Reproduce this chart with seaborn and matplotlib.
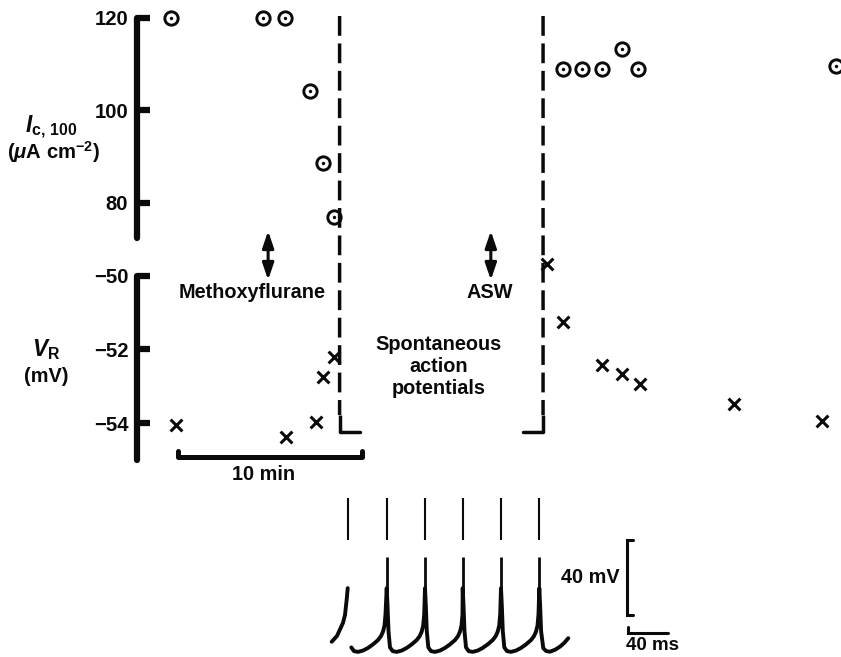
import matplotlib
matplotlib.use("Agg")
import matplotlib.pyplot as plt
import seaborn as sns
import numpy as np
import pandas as pd
from matplotlib.patches import ConnectionPatch

# ---------------- data ----------------
# critical current I_c,100 (uA cm^-2) vs time (min)
ic_time = [-0.4, 4.6, 5.8, 7.2, 7.9, 8.5, 21.0, 22.0, 23.1, 24.2, 25.1, 35.9]
ic_value = [120.0, 120.0, 120.0, 104.2, 88.6, 76.9, 109.0, 109.0, 109.0, 113.1, 109.0, 109.5]
# resting potential V_R (mV) vs time (min)
vr_time = [-0.1, 5.9, 7.5, 7.9, 8.5, 20.1, 21.0, 23.1, 24.2, 25.2, 30.3, 35.1]
vr_value = [-54.05, -54.38, -53.97, -52.75, -52.2, -49.69, -51.25, -52.42, -52.67, -52.94, -53.48, -53.94]

ic_ticks = [80, 100, 120]
ic_ticklabels = ["80", "100", "120"]
vr_ticks = [-54, -52, -50]
vr_ticklabels = ["\u221254", "\u221252", "\u221250"]

ap_period_min = [8.8, 19.9]          # dashed lines: spontaneous AP period
arrow_min = [4.9, 17.05]             # solution changes
arrow_labels = ["Methoxyflurane", "ASW"]
time_bar_min = [0, 10]               # "10 min" bar

# spontaneous action potential trace (ms, mV)
spike_ms = [28.0, 66.7, 105.0, 142.7, 181.0, 219.3]
first_rise_dt = [-16.3, -11.0, -8.0, -5.0, -3.0, -1.3, -0.3]
first_rise_mv = [-55.6, -52.5, -49.0, -45.5, -41.3, -33.0, -27.0]
cycle_dt = [0.0, 0.8, 1.8, 3.3, 6.0, 10.0, 15.0, 20.0, 25.0, 30.0, 33.0, 35.0, 36.5, 37.5]
cycle_mv = [-27.0, -36.0, -50.0, -58.6, -60.6, -61.0, -60.3, -58.9, -57.0, -54.7, -52.6, -50.2, -47.0, -41.0]
tail_dt = [0.0, 0.8, 1.8, 4.0, 7.0, 10.7, 16.0, 20.7, 25.0, 29.0]
tail_mv = [-27.0, -36.0, -50.0, -59.1, -60.6, -60.9, -59.8, -58.2, -56.2, -53.7]
spike_top_mv = 21.0
spike_gap_mv = [-1.3, -10.4]
scale_mv = 40
scale_ms = 40

# ---------------- style ----------------
sns.set_theme(style="white")
plt.rcParams["font.family"] = ["Liberation Sans", "DejaVu Sans"]
plt.rcParams["mathtext.fontset"] = "custom"
plt.rcParams["mathtext.rm"] = "Liberation Sans:bold"
plt.rcParams["mathtext.it"] = "Liberation Sans:italic:bold"
plt.rcParams["mathtext.bf"] = "Liberation Sans:bold"
INK = "#0a0a0a"
FS = 14.3
TFS = 14.6
FW = "bold"

W, H = 841, 657
fig = plt.figure(figsize=(W / 100, H / 100), dpi=100)

def box(x0, y0, x1, y1):
    return [x0 / W, 1 - y1 / H, (x1 - x0) / W, (y1 - y0) / H]

# time calibration: t=0 at x=178.3 px, 18.33 px per minute
X0, PXM = 178.3, 18.33
tl, tr = (136.5 - X0) / PXM, (W - X0) / PXM

ax_ic = fig.add_axes(box(136.5, 10, W, 240))
ax_vr = fig.add_axes(box(136.5, 250, W, 470))
ax_tr = fig.add_axes(box(320, 485, 700, H))

# I_c: 120 at y=17.5 px, 4.6375 px/unit
ax_ic.set_ylim(120 - (240 - 17.5) / 4.6375, 120 + (17.5 - 10) / 4.6375)
# V_R: -50 at y=275.7 px, 36.9 px/mV
ax_vr.set_ylim(-50 - (470 - 275.7) / 36.9, -50 + (275.7 - 250) / 36.9)
for ax in (ax_ic, ax_vr):
    ax.set_xlim(tl, tr)
    ax.set_facecolor("none")
    for s in ("top", "right", "bottom"):
        ax.spines[s].set_visible(False)
    ax.spines["left"].set_linewidth(4.5)
    ax.spines["left"].set_color(INK)
    ax.spines["left"].set_capstyle("round")
    ax.set_xticks([])
    ax.tick_params(axis="y", direction="in", length=9, width=4.5, color=INK,
                   labelsize=TFS, labelcolor=INK, pad=6, left=True)

ax_ic.spines["left"].set_bounds(72.4, 120.0)
ax_ic.set_yticks(ic_ticks)
ax_ic.set_yticklabels(ic_ticklabels, fontweight=FW)
ax_vr.spines["left"].set_bounds(-55.0, -50.0)
ax_vr.set_yticks(vr_ticks)
ax_vr.set_yticklabels(vr_ticklabels, fontweight=FW)

# ---- markers ----
ic_df = pd.DataFrame({"t": ic_time, "v": ic_value})
vr_df = pd.DataFrame({"t": vr_time, "v": vr_value})
sns.scatterplot(data=ic_df, x="t", y="v", ax=ax_ic, marker="o", s=92,
                facecolor="white", edgecolor=INK, linewidth=2.1, clip_on=False, zorder=3)
sns.scatterplot(data=ic_df, x="t", y="v", ax=ax_ic, marker="o", s=6,
                color=INK, linewidth=0, clip_on=False, zorder=4)
sns.scatterplot(data=vr_df, x="t", y="v", ax=ax_vr, marker="x", s=72,
                color=INK, linewidth=2.2, clip_on=False, zorder=3)
ax_ic.set_xlabel(""); ax_ic.set_ylabel("")
ax_vr.set_xlabel(""); ax_vr.set_ylabel("")

# ---- dashed lines spanning both panels ----
ic_top = 120 + (17.5 - 16) / 4.6375
vr_solid_top = -50 - (415 - 275.7) / 36.9
vr_bottom = -50 - (432 - 275.7) / 36.9
for t in ap_period_min:
    cp = ConnectionPatch(xyA=(t, ic_top), coordsA=ax_ic.transData,
                         xyB=(t, vr_solid_top), coordsB=ax_vr.transData,
                         color=INK, lw=2.5, linestyle=(0, (5.7, 2.2)),
                         capstyle="butt")
    fig.add_artist(cp)
    ax_vr.plot([t, t], [vr_solid_top, vr_bottom], color=INK, lw=2.5,
               solid_capstyle="butt", clip_on=False)
hook = 1.1
ax_vr.plot([ap_period_min[0], ap_period_min[0] + hook], [vr_bottom, vr_bottom],
           color=INK, lw=2.5, clip_on=False)
ax_vr.plot([ap_period_min[1] - hook, ap_period_min[1]], [vr_bottom, vr_bottom],
           color=INK, lw=2.5, clip_on=False)

# ---- double arrows + labels ----
arr_top = 120 - (231 - 17.5) / 4.6375
arr_bot = -50 - (280 - 275.7) / 36.9
for t in arrow_min:
    ax_vr.annotate("", xy=(t, arr_bot), xycoords="data",
                   xytext=(t, arr_top), textcoords=ax_ic.transData,
                   arrowprops=dict(arrowstyle="<|-|>,head_length=0.5,head_width=0.17",
                                   color=INK, lw=2.2, mutation_scale=20,
                                   shrinkA=0, shrinkB=0))
lab_x = [(252.5 - X0) / PXM, (489.7 - X0) / PXM]
lab_y = -50 - (292.5 - 275.7) / 36.9
for x, s in zip(lab_x, arrow_labels):
    ax_vr.text(x, lab_y, s, ha="center", va="center", fontsize=FS,
               fontweight=FW, color=INK)
ax_vr.text((438.3 - X0) / PXM, -50 - (366.5 - 275.7) / 36.9,
           "Spontaneous\naction\npotentials", ha="center", va="center",
           fontsize=FS, fontweight=FW, color=INK, linespacing=1.22)

# ---- 10 min bar ----
bar_y = -50 - (457.3 - 275.7) / 36.9
bar_up = -50 - (450.5 - 275.7) / 36.9
ax_vr.plot([time_bar_min[0], time_bar_min[0], time_bar_min[1], time_bar_min[1]],
           [bar_up, bar_y, bar_y, bar_up], color=INK, lw=3.6,
           solid_capstyle="round", solid_joinstyle="round", clip_on=False)
ax_vr.text(np.mean(time_bar_min) - 0.35, -50 - (475 - 275.7) / 36.9, "10 min",
           ha="center", va="center", fontsize=FS, fontweight=FW, color=INK)

# ---- axis labels ----
fig.text(51 / W, 1 - 127 / H, r"$\mathit{I}_{\mathbf{c,\,100}}$", ha="center",
         va="center", fontsize=FS + 2, color=INK)
fig.text(54 / W, 1 - 152 / H, r"($\mathit{\mu}$A cm$^{\mathbf{-2}}$)", ha="center",
         va="center", fontsize=FS + 0.3, fontweight=FW, color=INK)
fig.text(46 / W, 1 - 350 / H, r"$\mathit{V}_{\mathbf{R}}$", ha="center",
         va="center", fontsize=FS + 2, color=INK)
fig.text(46 / W, 1 - 377 / H, "(mV)", ha="center", va="center",
         fontsize=FS, fontweight=FW, color=INK)

# ---- spontaneous AP trace ----
rows = []
seg = 0
for d, v in zip(first_rise_dt, first_rise_mv):
    rows.append((seg, spike_ms[0] + d, v))
seg += 1
# after first spike the trace resumes at the trough
for d, v in zip(cycle_dt[3:], cycle_mv[3:]):
    rows.append((seg, spike_ms[0] + d, v))
for s in spike_ms[1:-1]:
    for d, v in zip(cycle_dt, cycle_mv):
        rows.append((seg, s + d, v))
for d, v in zip(tail_dt, tail_mv):
    rows.append((seg, spike_ms[-1] + d, v))
tr_df = pd.DataFrame(rows, columns=["seg", "ms", "mv"])
ax_tr.set_xlim(0, 380)
ax_tr.set_ylim(-60 - (657 - 650) / 1.875, -60 + (650 - 485) / 1.875)
sns.lineplot(data=tr_df, x="ms", y="mv", units="seg", estimator=None, sort=False,
             ax=ax_tr, color=INK, lw=2.8, legend=False)
ax_tr.vlines(spike_ms, spike_gap_mv[0], spike_top_mv, color=INK, lw=1.5)
ax_tr.vlines(spike_ms[1:], cycle_mv[0], spike_gap_mv[1], color=INK, lw=2.0)
# scale bars
sx = 307
sy_top = -1.3
ax_tr.plot([sx + 6, sx, sx, sx + 6], [sy_top, sy_top, sy_top - scale_mv, sy_top - scale_mv],
           color=INK, lw=2.2, solid_joinstyle="miter")
hy = -50.9
ax_tr.plot([sx + 1, sx + 1, sx + 1 + scale_ms], [hy + 3.2, hy, hy], color=INK, lw=2.2,
           solid_joinstyle="miter")
ax_tr.text(sx - 7, sy_top - scale_mv / 2, "40 mV", ha="right", va="center",
           fontsize=FS, fontweight=FW, color=INK)
ax_tr.text(sx + 26, -60 - (646 - 650) / 1.875, "40 ms", ha="center", va="center",
           fontsize=FS - 0.8, fontweight=FW, color=INK)
ax_tr.axis("off")
ax_tr.set_xlabel(""); ax_tr.set_ylabel("")

fig.savefig("out.png", dpi=100, facecolor="white")
